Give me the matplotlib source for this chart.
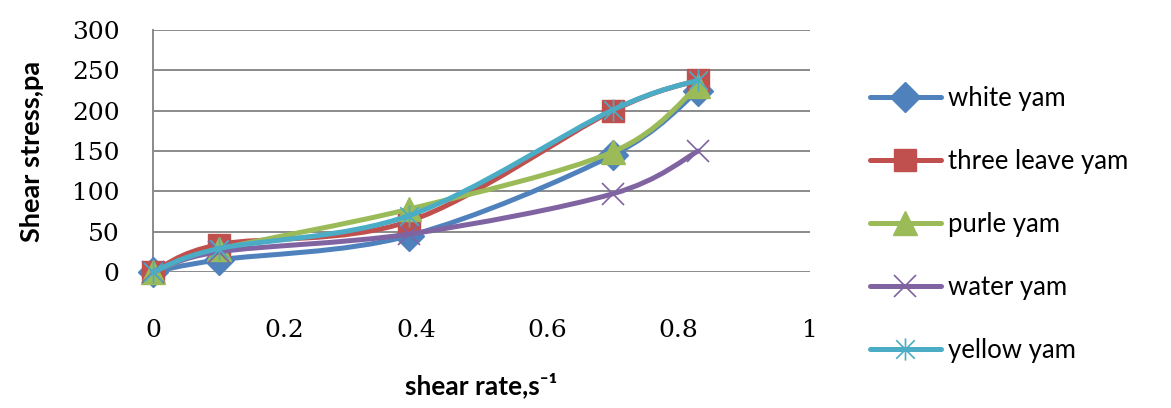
import matplotlib
matplotlib.use("Agg")
import matplotlib.pyplot as plt
import numpy as np
from matplotlib.path import Path
from matplotlib.patches import PathPatch
from matplotlib.lines import Line2D

# ---- data ----
shear_rate = [0, 0.1, 0.39, 0.7, 0.83]
white_yam = [0, 15, 45, 145, 225]
three_leave_yam = [0, 34, 63, 200, 238]
purle_yam = [0, 28, 78, 149, 231]
water_yam = [0, 25, 47, 97, 150]
yellow_yam = [0, 29, 70, 201, 238]

series_names = ["white yam", "three leave yam", "purle yam", "water yam", "yellow yam"]
series_values = [white_yam, three_leave_yam, purle_yam, water_yam, yellow_yam]
colors = ["#4F81BD", "#C0504D", "#9BBB59", "#8064A2", "#4BACC6"]

x_ticks = [0, 0.2, 0.4, 0.6, 0.8, 1]
x_tick_labels = ["0", "0.2", "0.4", "0.6", "0.8", "1"]
y_ticks = [0, 50, 100, 150, 200, 250, 300]

# Excel-style star marker (x plus vertical bar)
star = Path([(-1, -1), (1, 1), (-1, 1), (1, -1), (0, -1.2), (0, 1.2)],
            [Path.MOVETO, Path.LINETO, Path.MOVETO, Path.LINETO, Path.MOVETO, Path.LINETO])
markers = ["D", "s", "^", "x", star]
msizes = [15, 16, 17, 16, 16]


def smooth_path(xs, ys):
    pts = np.column_stack([xs, ys]).astype(float)
    n = len(pts)
    verts = [pts[0]]
    codes = [Path.MOVETO]
    for i in range(n - 1):
        p0 = pts[i - 1] if i > 0 else pts[i]
        p1 = pts[i]
        p2 = pts[i + 1]
        p3 = pts[i + 2] if i + 2 < n else pts[i + 1]
        c1 = p1 + (p2 - p0) / 6.0
        c2 = p2 - (p3 - p1) / 6.0
        verts += [c1, c2, p2]
        codes += [Path.CURVE4] * 3
    return Path(verts, codes)


fig = plt.figure(figsize=(11.71, 4.08), dpi=100)
ax = fig.add_axes([153 / 1171, 1 - 272 / 408, (810 - 153) / 1171, (272 - 30) / 408])

ax.set_xlim(0, 1)
ax.set_ylim(0, 300)
ax.set_yticks(y_ticks)
ax.set_xticks(x_ticks)
ax.set_xticklabels(x_tick_labels)
ax.yaxis.grid(True, color="#8A8A8A", linewidth=1.4)
ax.set_axisbelow(True)
for s in ["top", "right", "bottom"]:
    ax.spines[s].set_visible(False)
ax.spines["left"].set_color("#8A8A8A")
ax.spines["left"].set_linewidth(1.4)
ax.tick_params(axis="both", length=0, labelsize=18)
ax.tick_params(axis="x", pad=34)
ax.tick_params(axis="y", pad=24)
for lab in ax.get_xticklabels() + ax.get_yticklabels():
    lab.set_fontfamily("DejaVu Serif")

handles = []
for k, (name, vals, c, m, ms) in enumerate(zip(series_names, series_values, colors, markers, msizes)):
    patch = PathPatch(smooth_path(shear_rate, vals), facecolor="none", edgecolor=c,
                      linewidth=3.6, capstyle="round", joinstyle="round", zorder=3 + 2 * k,
                      clip_on=False)
    ax.add_patch(patch)
    if m in ("x",) or m is star:
        ax.plot(shear_rate, vals, linestyle="none", marker=m, markersize=ms,
                markeredgecolor=c, markeredgewidth=1.2, zorder=4 + 2 * k, clip_on=False)
        h = Line2D([], [], color=c, linewidth=3.6, marker=m, markersize=ms,
                   markeredgecolor=c, markeredgewidth=1.2, solid_capstyle="round")
    else:
        ax.plot(shear_rate, vals, linestyle="none", marker=m, markersize=ms,
                markerfacecolor=c, markeredgecolor=c, markeredgewidth=1, zorder=4 + 2 * k,
                clip_on=False)
        h = Line2D([], [], color=c, linewidth=3.6, marker=m, markersize=ms,
                   markerfacecolor=c, markeredgecolor=c, solid_capstyle="round")
    handles.append(h)

ax.set_ylabel("Shear stress,pa", fontsize=19.5, fontweight="bold", family="Lato", labelpad=20)
ax.set_xlabel("shear rate,s\u207b\u00b9", fontsize=19, fontweight="bold",
              family=["Lato", "DejaVu Sans"], labelpad=22)

leg = fig.legend(handles, series_names, loc="center left",
                 bbox_to_anchor=(870 / 1171, 1 - 224.5 / 408), frameon=False,
                 prop={"family": "Lato", "size": 18.5}, handlelength=2.75,
                 handletextpad=0.3, labelspacing=1.48, borderpad=0, borderaxespad=0)

fig.savefig("out.png", dpi=100)
